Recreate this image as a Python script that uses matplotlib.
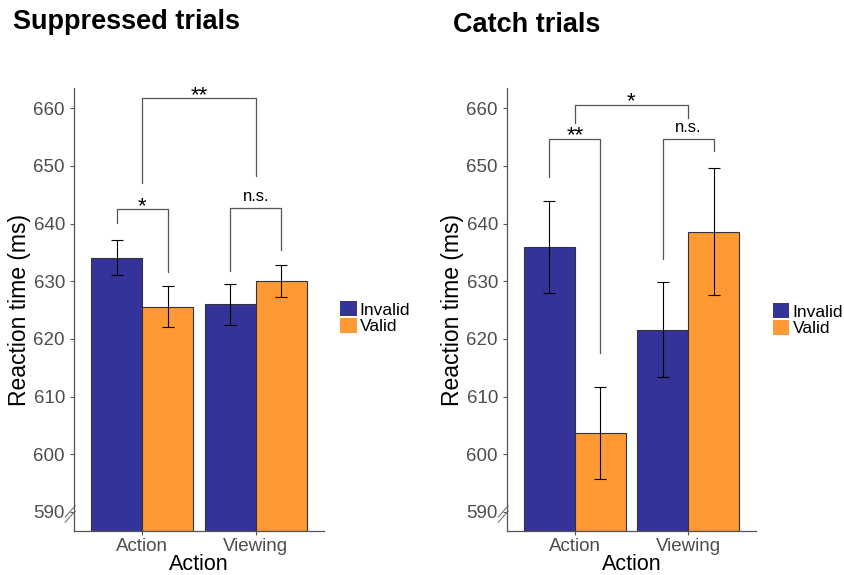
import numpy as np
import matplotlib
matplotlib.use('Agg')
import matplotlib.pyplot as plt
from matplotlib.patches import Patch

plt.rcParams['font.family'] = ['Liberation Sans', 'DejaVu Sans']

# data
conditions = ['Action', 'Viewing']
cues = ['Invalid', 'Valid']
colors = ['#333399', '#FF9933']

supp_invalid = [634.1, 626.0]
supp_valid = [625.6, 630.0]
supp_invalid_err = [3.1, 3.6]
supp_valid_err = [3.6, 2.75]

catch_invalid = [636.0, 621.6]
catch_valid = [603.7, 638.6]
catch_invalid_err = [8.0, 8.2]
catch_valid_err = [8.0, 11.0]

# brackets: (x1, x2, top, left leg end, right leg end, label)
supp_brackets = [
    (0.775, 1.225, 642.5, 640.1, 631.6, '*'),
    (1.775, 2.225, 642.7, 631.8, 635.4, 'n.s.'),
    (1.0, 2.0, 661.7, 647.1, 648.2, '**'),
]
catch_brackets = [
    (0.775, 1.225, 654.7, 648.1, 617.5, '**'),
    (1.775, 2.225, 654.7, 633.8, 652.6, 'n.s.'),
    (1.0, 2.0, 660.6, 657.4, 658.3, '*'),
]

yticks = [590, 600, 610, 620, 630, 640, 650, 660]
ylim = (586.7, 663.5)
bw = 0.45


def draw_panel(ax, inv, val, inv_err, val_err, brackets, legend_x, legend_y):
    x = np.arange(1, len(conditions) + 1)
    base = ylim[0]
    ax.bar(x - bw / 2, np.array(inv) - base, bw, bottom=base, color=colors[0],
           edgecolor='#333333', linewidth=0.8)
    ax.bar(x + bw / 2, np.array(val) - base, bw, bottom=base, color=colors[1],
           edgecolor='#333333', linewidth=0.8)
    ax.errorbar(x - bw / 2, inv, yerr=inv_err, fmt='none', ecolor='black',
                elinewidth=0.8, capsize=4.2, capthick=0.8)
    ax.errorbar(x + bw / 2, val, yerr=val_err, fmt='none', ecolor='black',
                elinewidth=0.8, capsize=4.2, capthick=0.8)

    for x1, x2, top, l1, l2, lab in brackets:
        ax.plot([x1, x1, x2, x2], [l1, top, top, l2], color='#555555', lw=0.9,
                clip_on=False)
        if '*' in lab:
            ax.text((x1 + x2) / 2, top - 0.5, lab, ha='center', va='baseline',
                    fontsize=16, color='black', clip_on=False)
        else:
            ax.text((x1 + x2) / 2, top + 1.2, lab, ha='center', va='baseline',
                    fontsize=12, color='black', clip_on=False)

    ax.set_xlim(0.4, 2.6)
    ax.set_ylim(*ylim)
    ax.set_yticks(yticks)
    ax.set_xticks(x)
    ax.set_xticklabels(conditions)
    ax.tick_params(axis='both', colors='#555555', labelsize=13.5, length=3,
                   width=0.8, labelcolor='#4d4d4d')
    ax.tick_params(axis='x', pad=2)
    for s in ['top', 'right']:
        ax.spines[s].set_visible(False)
    for s in ['left', 'bottom']:
        ax.spines[s].set_color('#555555')
        ax.spines[s].set_linewidth(0.9)
    ax.set_ylabel('Reaction time (ms)', fontsize=16.5, labelpad=2)
    ax.set_xlabel('Action', fontsize=15.5, labelpad=-1)

    # axis break marks
    for dy in (0.0, 0.012):
        ax.plot([-0.035, 0.005], [0.02 + dy, 0.045 + dy], transform=ax.transAxes,
                color='#777777', lw=0.8, clip_on=False)

    handles = [Patch(facecolor=c, edgecolor='none') for c in colors]
    ax.legend(handles, cues, loc='center left', bbox_to_anchor=(legend_x, legend_y),
              frameon=False, fontsize=12.5, handlelength=0.95, handleheight=0.95,
              handletextpad=0.18, labelspacing=0.0, borderpad=0, borderaxespad=0)


fig = plt.figure(figsize=(8.44, 5.75), dpi=100)
ax1 = fig.add_axes([0.0877, 0.0765, 0.2962, 0.7704])
ax2 = fig.add_axes([0.6007, 0.0765, 0.2950, 0.7704])

draw_panel(ax1, supp_invalid, supp_valid, supp_invalid_err, supp_valid_err,
           supp_brackets, 1.064, 0.481)
draw_panel(ax2, catch_invalid, catch_valid, catch_invalid_err, catch_valid_err,
           catch_brackets, 1.068, 0.477)

fig.text(13 / 844, 1 - 22 / 575, 'Suppressed trials', fontsize=19.5,
         fontweight='bold', ha='left', va='center')
fig.text(453 / 844, 1 - 25 / 575, 'Catch trials', fontsize=19.5,
         fontweight='bold', ha='left', va='center')

fig.savefig('out.png', dpi=100)
